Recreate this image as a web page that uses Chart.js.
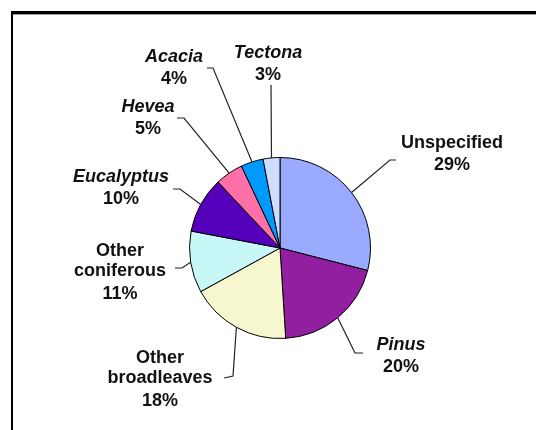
<!DOCTYPE html>
<html>
<head>
<meta charset="utf-8">
<script src="https://cdn.jsdelivr.net/npm/chart.js@4"></script>
<style>
body{margin:0;background:#fff;}
#wrap{position:relative;width:536px;height:430px;overflow:hidden;}
#frame{position:absolute;left:11px;top:11px;right:-10px;bottom:-10px;border-top:3px solid #000;border-left:2px solid #000;}
#frame:after{content:"";position:absolute;left:0;right:0;top:0;height:1px;background:#999;}
canvas{position:absolute;left:0;top:0;}
</style>
</head>
<body>
<div id="wrap">
<div id="frame"></div>
<canvas id="pie" width="536" height="430"></canvas>
</div>
<script>
// data
const categories = ['Unspecified','Pinus','Other broadleaves','Other coniferous','Eucalyptus','Hevea','Acacia','Tectona'];
const shares = [29,20,18,11,10,5,4,3];
const italicName = [false,true,false,false,true,true,true,true];
const sliceColors = ['#99aaff','#921fa0','#f7f7cf','#c8f7f7','#5500bb','#ff6fa8','#0099ff','#ccddff'];

// label placement, offsets from the pie centre (elbow, line end, text x, first text line y)
const labelLayout = [
  {elbow:[110,-88], end:[116,-88], tx:172, ty:-105},
  {elbow:[75,105],  end:[83,105],  tx:121, ty:97},
  {elbow:[-47,128], end:[-56,130], tx:-120, ty:110},
  {elbow:[-98,20],  end:[-105,20], tx:-160, ty:3},
  {elbow:[-100,-59],end:[-107,-59],tx:-159, ty:-71},
  {elbow:[-96,-130],end:[-103,-130],tx:-132, ty:-141},
  {elbow:[-67,-180],end:[-73,-180],tx:-106, ty:-191},
  {elbow:[-9,-163], end:[-9,-163], tx:-12, ty:-195}
];

const leaders = {
  id:'leaders',
  afterDatasetsDraw(chart){
    const c = chart.ctx;
    const arcs = chart.getDatasetMeta(0).data;
    c.save();
    arcs.forEach((arc,i)=>{
      const p = arc.getProps(['x','y','startAngle','endAngle','outerRadius'],true);
      const mid = (p.startAngle+p.endAngle)/2;
      const sx = p.x + Math.cos(mid)*p.outerRadius;
      const sy = p.y + Math.sin(mid)*p.outerRadius;
      const L = labelLayout[i];
      c.strokeStyle='#222';
      c.lineWidth=1.2;
      c.beginPath();
      c.moveTo(sx,sy);
      c.lineTo(p.x+L.elbow[0],p.y+L.elbow[1]);
      c.lineTo(p.x+L.end[0],p.y+L.end[1]);
      c.stroke();

      const lines = italicName[i] ? [categories[i]] : categories[i].split(' ');
      c.fillStyle='#111';
      c.textAlign='center';
      c.textBaseline='middle';
      lines.forEach((t,k)=>{
        c.font=(italicName[i]?'italic ':'')+'bold 18px "Liberation Sans", Arial, sans-serif';
        c.fillText(t,p.x+L.tx,p.y+L.ty+k*20.5);
      });
      c.font='bold 18px "Liberation Sans", Arial, sans-serif';
      c.fillText(shares[i]+'%',p.x+L.tx,p.y+L.ty+lines.length*20.5+2);
    });
    c.restore();
  }
};

new Chart(document.getElementById('pie'),{
  type:'pie',
  data:{
    labels:categories,
    datasets:[{
      data:shares,
      backgroundColor:sliceColors,
      borderColor:'#000',
      borderWidth:1
    }]
  },
  options:{
    responsive:false,
    animation:false,
    layout:{padding:{left:189,right:165,top:157,bottom:91}},
    plugins:{legend:{display:false},tooltip:{enabled:false}}
  },
  plugins:[leaders]
});
</script>
</body>
</html>
